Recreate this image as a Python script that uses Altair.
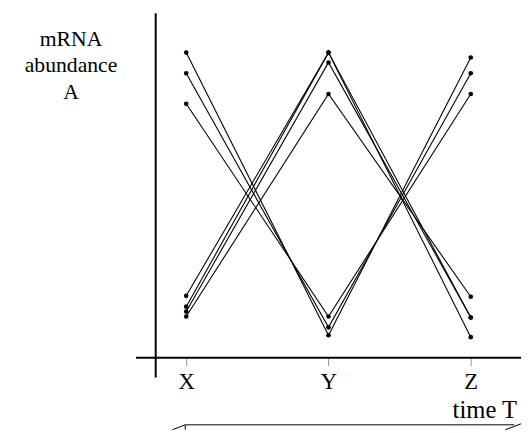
import altair as alt
import pandas as pd

# ---- data ----
categories = ["X", "Y", "Z"]
genes = ["g1", "g2", "g3", "g4", "g5", "g6", "g7"]
abundance_X = [63, 52, 47, 42, 310, 289, 258]
abundance_Y = [310, 310, 300, 268, 23, 31, 42]
abundance_Z = [21, 41, 41, 62, 305, 289, 268]
y_title_lines = ["mRNA", "abundance", "A"]
x_title = "time T"

rows = []
for i, g in enumerate(genes):
    for t, vals in enumerate([abundance_X, abundance_Y, abundance_Z]):
        rows.append({"gene": g, "t": t, "value": vals[i]})
df = pd.DataFrame(rows)

FONT = "Liberation Serif"
label_expr = "[" + ",".join("'%s'" % c for c in categories) + "][datum.value]"

x_enc = alt.X(
    "t:Q",
    scale=alt.Scale(domain=[-0.2145, 2.353], nice=False, zero=False),
    axis=alt.Axis(
        values=[0, 1, 2], labelExpr=label_expr, title=None, domain=False,
        grid=False, ticks=True, tickSize=8, tickColor="#999999", tickWidth=1,
        labelFont=FONT, labelFontSize=23, labelColor="black",
        labelBaseline="alphabetic", labelPadding=23,
    ),
)
y_enc = alt.Y("value:Q", scale=alt.Scale(domain=[0, 350], nice=False), axis=None)

lines = alt.Chart(df).mark_line(color="black", strokeWidth=1.1).encode(
    x=x_enc, y=y_enc, detail="gene:N", order="t:Q"
)
dots = alt.Chart(df).mark_circle(color="black", size=22, opacity=1).encode(
    x=x_enc, y=y_enc
)

def seg(x1, y1, x2, y2, w=2):
    return alt.Chart(df.head(1)).mark_rule(color="black", strokeWidth=w).encode(
        x=alt.value(x1), y=alt.value(y1), x2=alt.value(x2), y2=alt.value(y2)
    )

v_axis = seg(0, 0, 0, 370, 2)
h_axis = seg(-20, 350, 372, 350, 2)
br1 = seg(17, 423, 30, 418, 1)
br2 = seg(30, 418, 364, 418, 1)
br3 = seg(355, 423, 371, 417, 1)
br4 = seg(30, 418, 30, 423, 1)

y_title = alt.Chart(df.head(1)).mark_text(
    font=FONT, fontSize=22, color="black", align="center", baseline="alphabetic",
    lineHeight=27,
).encode(x=alt.value(-86), y=alt.value(33), text=alt.value(y_title_lines))

x_title_t = alt.Chart(df.head(1)).mark_text(
    font=FONT, fontSize=25, color="black", align="right", baseline="alphabetic",
).encode(x=alt.value(367), y=alt.value(411), text=alt.value(x_title))

chart = alt.layer(
    v_axis, h_axis, lines, dots, y_title, x_title_t, br1, br2, br3, br4
).properties(
    width=371, height=350,
    autosize=alt.AutoSizeParams(type="none"),
    padding={"left": 150, "top": 2, "right": 0, "bottom": 73},
).configure_view(stroke=None)

chart.save("out.html", embed_options={"renderer": "svg", "actions": False})
